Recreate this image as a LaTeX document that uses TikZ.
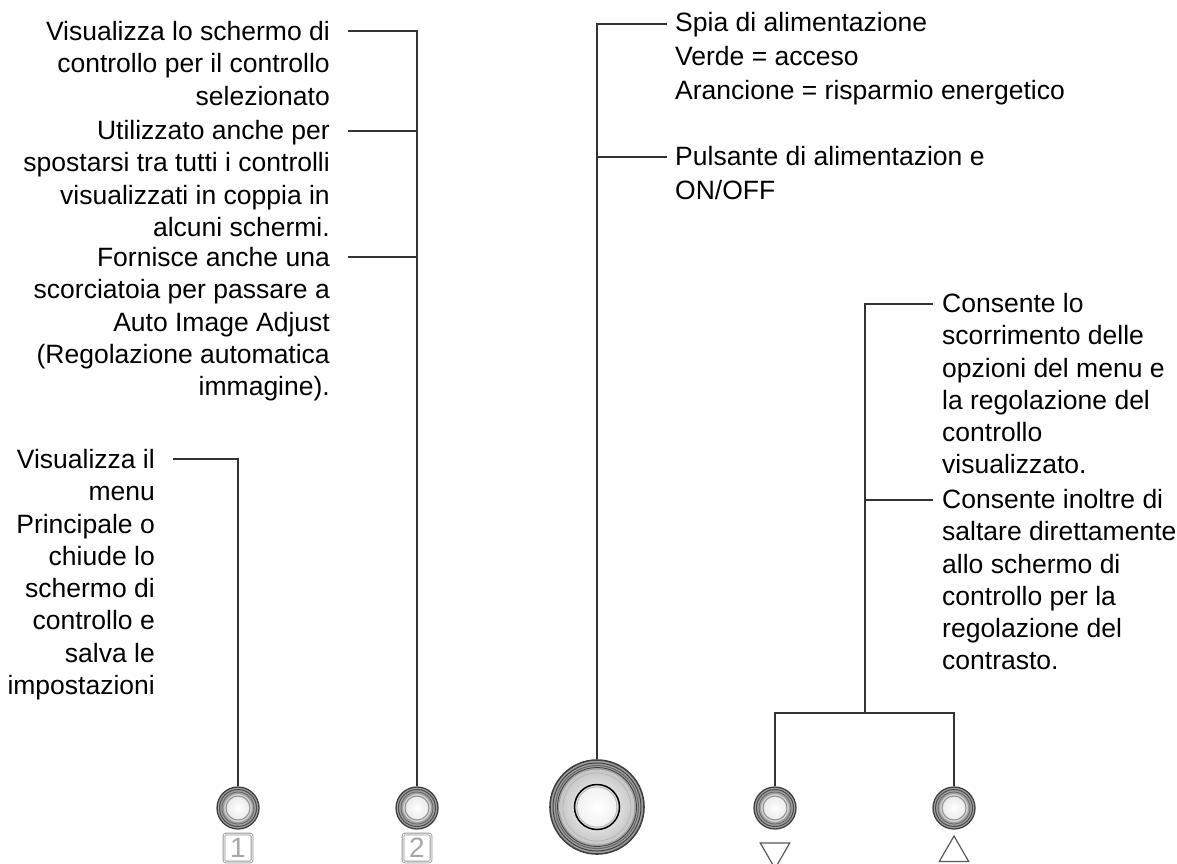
\documentclass[tikz,border=0pt]{standalone}
\usepackage{fontspec}
\setmainfont{Liberation Sans}
\usetikzlibrary{shapes.geometric}

\begin{document}
\begin{tikzpicture}[x=1pt,y=-1pt,
                    wire/.style={draw=black!80,line width=1.2pt},
                    note/.style={inner sep=0pt,font=\fontsize{26.5}{32.3}\selectfont},
                    noteR/.style={note,align=right,anchor=north east},
                    noteL/.style={note,align=left,anchor=north west},
                    smallbtn/.style={circle,minimum size=42pt,inner sep=0pt,fill=gray!75,draw=black!75,line width=1.3pt,
                        path picture={
                            \coordinate (c) at (path picture bounding box.center);
                            \draw[black!70,line width=1pt] (c) circle (18.5pt);
                            \draw[black!60,line width=0.8pt] (c) circle (16pt);
                            \shade[inner color=white,outer color=gray!40] (c) circle (14pt);
                            \draw[gray!85,line width=1pt] (c) circle (12pt);
                            \shade[inner color=white,outer color=gray!15] (c) circle (11pt);
                        }},
                    bigbtn/.style={circle,minimum size=94pt,inner sep=0pt,fill=gray!75,draw=black!75,line width=1.6pt,
                        path picture={
                            \coordinate (c) at (path picture bounding box.center);
                            \draw[black!75,line width=1pt] (c) circle (44pt);
                            \draw[black!60,line width=1pt] (c) circle (41.5pt);
                            \draw[black!75,line width=0.8pt] (c) circle (39.5pt);
                            \shade[inner color=white,outer color=gray!45] (c) circle (37.5pt);
                            \draw[gray!60,line width=0.6pt] (c) circle (34pt);
                            \draw[black,line width=1.5pt] (c) circle (22.5pt);
                            \draw[gray!60,line width=0.8pt] (c) circle (20pt);
                            \shade[inner color=white,outer color=gray!10] (c) circle (19.5pt);
                        }},
                    keybox/.style={draw=gray!80,double=gray!10,double distance=1pt,line width=0.8pt,rounded corners=2pt,
                        minimum size=28pt,inner sep=0pt,text=gray!70,font=\fontsize{28}{28}\selectfont},
                    tri/.style={regular polygon,regular polygon sides=3,minimum size=34pt,inner sep=0pt,
                        draw=black!65,line width=1.2pt}
                ]
    \useasboundingbox (0,0) rectangle (1177,863);

    % buttons
    \foreach \n/\x in {1/238,2/417,down/775,up/954}
        {
        \node[smallbtn] (b\n) at (\x,808) {};
    }
    \node[bigbtn] (pwr) at (597,807) {};
    \node[keybox] (k1) at (238,848) {1};
    \node[keybox] (k2) at (417,848) {2};
    \node[tri,shape border rotate=180] (tdown) at (775,851.5) {};
    \node[tri] (tup) at (954,853) {};

    % texts
    \node[noteR] (tSel) at (330,21) {Visualizza lo schermo di\\controllo per il controllo\\selezionato};
    \node[noteR] (tMove) at (330,120) {Utilizzato anche per\\spostarsi tra tutti i controlli\\visualizzati in coppia in\\alcuni schermi.};
    \node[noteR] (tAuto) at (330,247) {Fornisce anche una\\scorciatoia per passare a\\Auto Image Adjust\\(Regolazione automatica\\immagine).};
    \node[noteR] (tMenu) at (155,449) {Visualizza il\\menu\\Principale o\\chiude lo\\schermo di\\controllo e\\salva le\\impostazioni};
    \node[noteL,font=\fontsize{26.5}{34}\selectfont] (tLed) at (675,12) {Spia di alimentazione\\Verde = acceso\\Arancione = risparmio energetico};
    \node[noteL,font=\fontsize{26.5}{34}\selectfont] (tPower) at (675,146) {Pulsante di alimentazion e\\ON/OFF};
    \node[noteL] (tScroll) at (942,293) {Consente lo\\scorrimento delle\\opzioni del menu e\\la regolazione del\\controllo\\visualizzato.};
    \node[noteL] (tJump) at (942,489) {Consente inoltre di\\saltare direttamente\\allo schermo di\\controllo per la\\regolazione del\\contrasto.};

    % connector ends
    \coordinate (s1) at (348,31);
    \coordinate (s2) at (348,131);
    \coordinate (s3) at (348,257);
    \coordinate (s4) at (173,459);
    \coordinate (s5) at (667,24);
    \coordinate (s6) at (667,157);
    \coordinate (s7) at (933,304);
    \coordinate (s8) at (933,500);
    \coordinate (fork) at (865,713);

    \draw[wire] (b1.north) |- (s4);
    \draw[wire] (b2.north) |- (s1);
    \draw[wire] (b2.north |- s2) -- (s2);
    \draw[wire] (b2.north |- s3) -- (s3);
    \draw[wire] (pwr.north) |- (s5);
    \draw[wire] (pwr.north |- s6) -- (s6);
    \draw[wire] (bdown.north) |- (fork) -| (bup.north);
    \draw[wire] (fork) |- (s7);
    \draw[wire] (fork |- s8) -- (s8);
\end{tikzpicture}
\end{document}
